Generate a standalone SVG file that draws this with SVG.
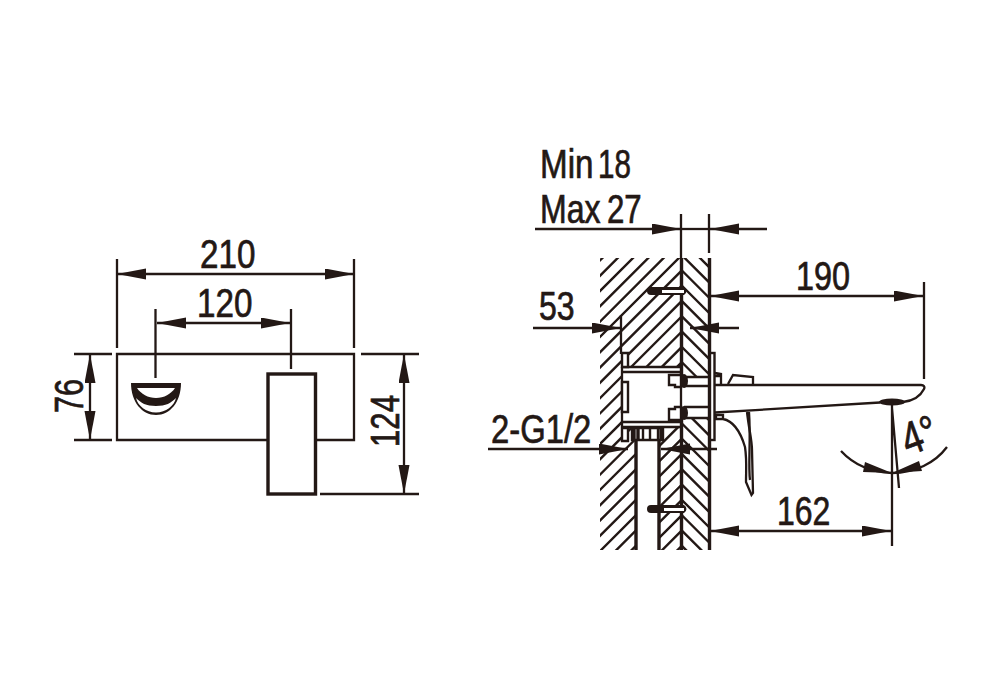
<svg xmlns="http://www.w3.org/2000/svg" width="1000" height="700" viewBox="0 0 1000 700">
<style>
.l{fill:none;stroke:#231815;stroke-width:2.3}
.h{fill:none;stroke:#231815;stroke-width:2.4}
.t{fill:none;stroke:#231815;stroke-width:3.4}
.k{fill:#231815;stroke:none}
.w{fill:#fff;stroke:#231815;stroke-width:2.4}
text{font-family:"Liberation Sans",Arial,sans-serif;font-size:40px;fill:#231815;stroke:#231815;stroke-width:.7}
</style>
<defs>
<marker id="a" markerUnits="userSpaceOnUse" markerWidth="30" markerHeight="12" refX="29" refY="5.5" orient="auto-start-reverse"><path d="M0 0L29 5.5L0 11Z" fill="#231815"/></marker>
<clipPath id="wallL"><path clip-rule="evenodd" d="M600 258H681V550H659V440H636V550H600ZM622 367V427H632V440H663V427H681V367Z"/></clipPath>
<clipPath id="wallR"><path d="M681 258H709V377H681ZM681 418H709V550H681Z"/></clipPath>
</defs>
<g id="front-view">
<path class="l" d="M268 440H117V354H354V440H316"/>
<rect class="t" x="268" y="374" width="47.500" height="120"/>
</g>
<g id="front-spout">
<path class="k" d="M131 383H181C181 402 170 415 156 415C142 415 131 402 131 383Z"/>
<path fill="#fff" d="M137 388H175C171 394 164 398 156 398C148 398 141 394 137 388Z"/>
<path fill="#fff" d="M136 398C141 403 146 406 156 406C166 406 171 403 176 398C174 406 166 412.500 156 412.500C146 412.500 138 406 136 398Z"/>
</g>
<g id="wall-hatch">
<g clip-path="url(#wallL)"><path class="h" d="M610.400 250L300 560.400M625.700 250L315.700 560M641 250L331 560M656.300 250L346.300 560M671.600 250L361.600 560M686.900 250L376.900 560M702.200 250L392.200 560M717.500 250L407.500 560M732.800 250L422.800 560M748.100 250L438.100 560M763.400 250L453.400 560M778.700 250L468.700 560M794 250L484 560M809.300 250L499.300 560M824.600 250L514.600 560M839.900 250L529.900 560M855.200 250L545.200 560M870.500 250L560.500 560M885.800 250L575.800 560M901.100 250L591.100 560M916.400 250L606.400 560M931.700 250L621.700 560M947 250L637 560M962.300 250L652.300 560M977.600 250L667.600 560"/></g>
<g clip-path="url(#wallR)"><path class="h" d="M675 233L715 273M675 248.300L715 288.300M675 263.600L715 303.600M675 278.900L715 318.900M675 294.200L715 334.200M675 309.500L715 349.500M675 324.800L715 364.800M675 340.100L715 380.100M675 355.400L715 395.400M675 370.700L715 410.700M675 386L715 426M675 401.300L715 441.300M675 416.600L715 456.600M675 431.900L715 471.900M675 447.200L715 487.200M675 462.500L715 502.500M675 477.800L715 517.800M675 493.100L715 533.100M675 508.400L715 548.400M675 523.700L715 563.700M675 539L715 579"/></g>
<path class="t" d="M681.500 258V377M681.500 418V550M709.500 258V550"/>
<path class="t" d="M636 440V550M659 440V550"/>
</g>
<g id="mounting-box">
<path class="l" d="M622 367V427M622 367H681M622 372H681M622 422H681M622 427H681M681 372V422"/>
<path class="w" d="M622 353H628V367H622ZM622 382H628V412H622ZM622 428H628V441H622Z"/>
<path class="w" d="M632 428H663V440H632ZM643 428V440M650 428V440M658 428V440"/>
<path class="t" d="M634 428V440M638 428V440M661 428V440"/>
<path class="w" d="M681 375H669V385H675V387H681ZM681 407H675V409H669V420H681Z"/>
<ellipse class="k" cx="684" cy="381" rx="4" ry="7"/>
<ellipse class="k" cx="684" cy="413" rx="4" ry="7"/>
<path class="l" d="M684 377H710M684 386H710M684 407H710M684 418H710"/>
</g>
<g id="screws">
<g id="screw-top"><path class="k" d="M651 287H684A4.500 4.500 0 0 1 684 295H651A4 4 0 0 1 651 287Z"/><rect x="662" y="290" width="22" height="3" fill="#fff"/></g>
<g id="screw-bottom"><path class="k" d="M651 505H684A4.500 4.500 0 0 1 684 513H651A4 4 0 0 1 651 505Z"/><rect x="664" y="508" width="20" height="3" fill="#fff"/></g>
</g>
<g id="faucet">
<rect class="w" x="710" y="353" width="4.500" height="87"/>
<path class="l" d="M715 373L721 374V384M715 376H721M728 384L733 375L753 377V384"/>
<path class="l" d="M715 385H921C924 385 925 387 924 389C920 397 912 401 903 402"/>
<path class="l" d="M715 412.500L880 402.500"/>
<ellipse class="k" cx="892" cy="402" rx="13" ry="3.600"/>
<path class="l" d="M747 412C749 430 752 440 752 450L753 493L751.500 495L746 482C746 470 747 460 745 447C740 430 733 421 723 419H716V415H723V420"/>
<path class="l" d="M749 412C751 440 748 465 750 480"/>
</g>
<g id="connectors">
<path class="l" d="M117 259V348M354 259V348M155.500 309V378M291 309V369M74 354H112M74 440H112M361 354H419M320 494H419"/>
<path class="l" marker-start="url(#a)" marker-end="url(#a)" d="M117 274H354"/>
<path class="l" marker-start="url(#a)" marker-end="url(#a)" d="M157 323H290"/>
<path class="l" marker-start="url(#a)" marker-end="url(#a)" d="M90 354V440"/>
<path class="l" marker-start="url(#a)" marker-end="url(#a)" d="M404 354V494"/>
<path class="l" d="M681 214V258M709 214V253"/>
<path class="l" marker-end="url(#a)" d="M535 229H681"/>
<path class="l" d="M681 229H709"/>
<path class="l" marker-end="url(#a)" d="M767 229H710"/>
<path class="l" d="M924 282V379"/>
<path class="l" marker-start="url(#a)" marker-end="url(#a)" d="M710 296H923"/>
<path class="l" d="M621 315V354"/>
<path class="l" marker-end="url(#a)" d="M533 328H621"/>
<path class="l" marker-end="url(#a)" d="M739 328H690"/>
<path class="l" marker-end="url(#a)" d="M488 449H628"/>
<path class="l" marker-end="url(#a)" d="M717 449H661"/>
<path class="l" d="M892 402V546M892 408L899 488"/>
<path class="l" marker-start="url(#a)" marker-end="url(#a)" d="M710 531H891"/>
<path class="l" d="M841 451C853 464 870 472 892 473C915 473 935 463 947 447"/>
<path class="k" d="M892 473L865 462L863 472ZM892 473L919 461L922 471Z"/>
</g>
<g id="labels">
<text transform="translate(200 268) scale(.83 1)">210</text>
<text transform="translate(197 317) scale(.83 1)">120</text>
<text transform="translate(83 413) rotate(-90) scale(.77 1)">76</text>
<text transform="translate(399 447) rotate(-90) scale(.78 1)">124</text>
<text transform="translate(540 178) scale(.83 1)">Min</text>
<text transform="translate(598 178) scale(.74 1)">18</text>
<text transform="translate(540 223) scale(.8 1)">Max</text>
<text transform="translate(607 223) scale(.78 1)">27</text>
<text transform="translate(539 320) scale(.8 1)">53</text>
<text transform="translate(796 290) scale(.81 1)">190</text>
<text transform="translate(777 525) scale(.8 1)">162</text>
<text transform="translate(491 443) scale(.82 1)">2-G1/2</text>
<text transform="translate(908 456) rotate(-20) scale(.8 1)" style="font-size:46px">4°</text>
</g>
</svg>
